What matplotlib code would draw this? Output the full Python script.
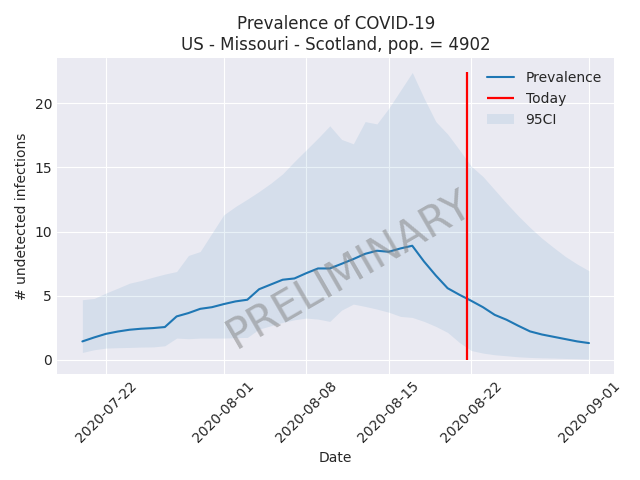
import matplotlib
matplotlib.use("Agg")
import matplotlib.pyplot as plt
import numpy as np
import pandas as pd

plt.style.use("seaborn-v0_8-darkgrid")
plt.rcParams["font.family"] = ["DejaVu Sans"]

dates = pd.date_range("2020-07-20", "2020-09-01", freq="D")
today = pd.Timestamp("2020-08-21 16:00")

prevalence = [1.43, 1.74, 2.02, 2.20, 2.34, 2.42, 2.47, 2.55, 3.38, 3.64,
              3.97, 4.10, 4.34, 4.55, 4.68, 5.50, 5.87, 6.24, 6.34, 6.75,
              7.12, 7.12, 7.48, 7.85, 8.26, 8.50, 8.42, 8.68, 8.89, 7.66,
              6.57, 5.58, 5.07, 4.60, 4.10, 3.50, 3.12, 2.65, 2.21, 1.97,
              1.79, 1.61, 1.43, 1.30]
upper = [4.68, 4.78, 5.20, 5.58, 5.97, 6.18, 6.44, 6.68, 6.88, 8.13,
         8.44, 9.87, 11.30, 11.95, 12.52, 13.12, 13.77, 14.50, 15.46, 16.37,
         17.28, 18.24, 17.18, 16.84, 18.57, 18.39, 19.60, 21.00, 22.40, 20.40,
         18.57, 17.60, 16.37, 15.10, 14.29, 13.25, 12.21, 11.22, 10.31, 9.48,
         8.75, 8.05, 7.46, 6.94]
lower = [0.57, 0.78, 0.91, 0.94, 0.96, 0.99, 1.00, 1.09, 1.69, 1.64,
         1.69, 1.69, 1.69, 1.72, 1.74, 2.39, 2.65, 2.91, 3.12, 3.25,
         3.17, 2.99, 3.87, 4.34, 4.16, 3.95, 3.71, 3.38, 3.30, 2.99,
         2.60, 2.13, 1.35, 0.72, 0.52, 0.39, 0.31, 0.23, 0.18, 0.15,
         0.13, 0.10, 0.08, 0.05]

fig, ax = plt.subplots(figsize=(6.4, 4.8), dpi=100)
ax.plot(dates, prevalence, color="#1f77b4", label="Prevalence")
ax.vlines(today, 0, max(upper), color="red", linewidth=1.6, label="Today")
ax.fill_between(dates, lower, upper, color="#1f77b4", alpha=0.1, linewidth=0, label="95CI")
ax.text(0.525, 0.33, "PRELIMINARY", transform=ax.transAxes, fontsize=30,
        color="gray", alpha=0.5, rotation=30, ha="center", va="center")
ax.set_title("Prevalence of COVID-19\nUS - Missouri - Scotland, pop. = 4902")
ax.set_xlabel("Date")
ax.set_ylabel("# undetected infections")
ax.legend(loc="upper right")
plt.xticks(rotation=45)
fig.tight_layout()
fig.savefig("out.png", dpi=100)
